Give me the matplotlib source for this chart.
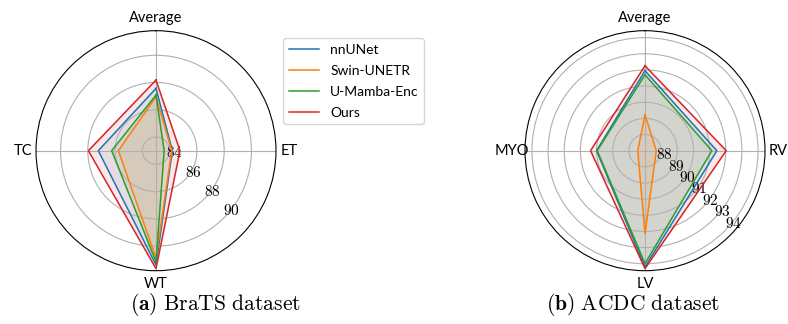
import numpy as np
import matplotlib
matplotlib.use("Agg")
import matplotlib.pyplot as plt

plt.rcParams['font.family'] = ['Lato', 'DejaVu Sans']
plt.rcParams['mathtext.fontset'] = 'cm'

# === Data ===
models = ["nnUNet", "Swin-UNETR", "U-Mamba-Enc", "Ours"]
colors = ["tab:blue", "tab:orange", "tab:green", "tab:red"]

# BraTS (order: Average, TC, WT, ET -> counterclockwise from top)
brats_labels = ["Average", "TC", "WT", "ET"]
brats_nnunet = [87.57, 87.23, 91.38, 84.20]
brats_swin = [86.95, 85.76, 90.88, 84.15]
brats_umamba = [87.08, 86.25, 91.15, 83.60]
brats_ours = [88.18, 87.96, 91.65, 84.76]
brats_ticks = [84, 86, 88, 90]

# ACDC (order: Average, MYO, LV, RV)
acdc_labels = ["Average", "MYO", "LV", "RV"]
acdc_nnunet = [91.95, 90.00, 94.20, 91.45]
acdc_swin = [89.22, 87.45, 92.13, 87.70]
acdc_umamba = [91.70, 89.96, 93.99, 91.14]
acdc_ours = [92.26, 90.37, 94.30, 92.03]
acdc_ticks = [88, 89, 90, 91, 92, 93, 94]


def radar(ax, labels, series, ticks, rlim):
    n = len(labels)
    theta = np.linspace(0, 2 * np.pi, n, endpoint=False)
    theta_c = np.concatenate([theta, theta[:1]])
    lines = []
    for vals, c, name in zip(series, colors, models):
        v = np.concatenate([vals, vals[:1]])
        ln, = ax.plot(theta_c, v, color=c, lw=1.1, label=name)
        ax.fill(theta_c, v, color=c, alpha=0.1)
        lines.append(ln)
    ax.set_theta_offset(np.pi / 2)
    ax.set_xticks(theta)
    ax.set_xticklabels(labels, fontsize=10.5)
    ax.set_ylim(*rlim)
    ax.set_yticks(ticks)
    ax.set_yticklabels([f"${t}$" for t in ticks], fontsize=11)
    ax.set_rlabel_position(225)
    ax.tick_params(axis='x', pad=-1)
    return lines


fig = plt.figure(figsize=(7.88, 3.24), dpi=100)

ax1 = fig.add_axes([36 / 788, 53.3 / 324, 240 / 788, 240 / 324], projection='polar')
lines = radar(ax1, brats_labels, [brats_nnunet, brats_swin, brats_umamba, brats_ours],
              brats_ticks, (83, 91.8))

ax2 = fig.add_axes([525 / 788, 53.3 / 324, 240 / 788, 240 / 324], projection='polar')
radar(ax2, acdc_labels, [acdc_nnunet, acdc_swin, acdc_umamba, acdc_ours],
      acdc_ticks, (87, 94.43))

fig.legend(handles=lines, loc='upper left', bbox_to_anchor=(283 / 788, 1 - 38 / 324),
           fontsize=10, handlelength=2.2, labelspacing=0.65, borderaxespad=0,
           frameon=True)

fig.text(215 / 788, 1 - 305 / 324, r"$\mathbf{(a)}\ \mathrm{BraTS\ dataset}$",
         ha='center', va='center', fontsize=15.5)
fig.text(633 / 788, 1 - 305 / 324, r"$\mathbf{(b)}\ \mathrm{ACDC\ dataset}$",
         ha='center', va='center', fontsize=15.5)

fig.savefig("out.png", dpi=100)
